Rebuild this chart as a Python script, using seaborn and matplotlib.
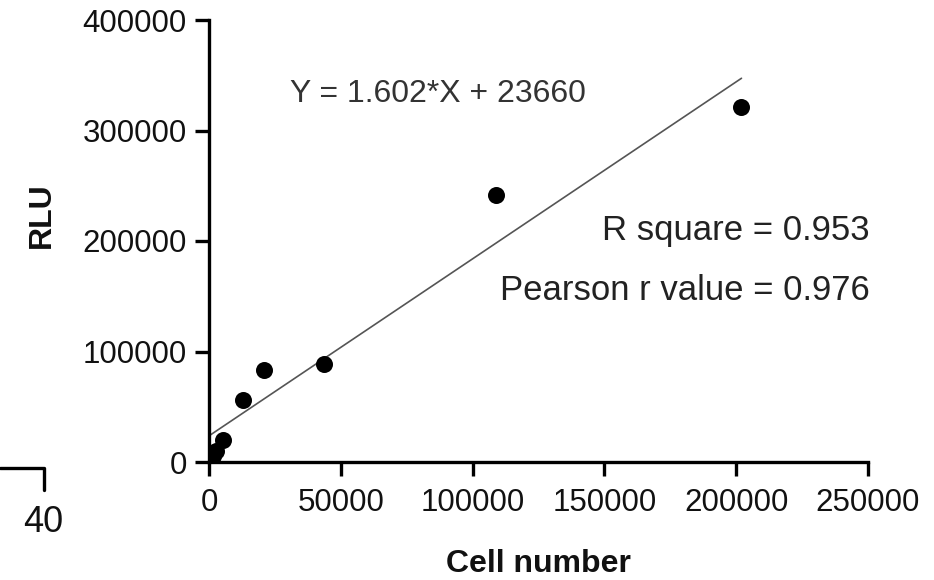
import matplotlib
matplotlib.use("Agg")
import matplotlib.pyplot as plt
import seaborn as sns
import numpy as np
import pandas as pd
from matplotlib.lines import Line2D

# ---- data ----
cell_number = [700, 1400, 2700, 5400, 12900, 20800, 43500, 109000, 202000]
rlu = [2000, 5000, 10000, 20000, 56500, 83500, 89000, 242000, 321000]
fit_slope = 1.602
fit_intercept = 23660
x_ticks = [0, 50000, 100000, 150000, 200000, 250000]
y_ticks = [0, 100000, 200000, 300000, 400000]

df = pd.DataFrame({"Cell number": cell_number, "RLU": rlu})
fit_x = np.array([0, max(cell_number)])
fit_df = pd.DataFrame({"x": fit_x, "y": fit_slope * fit_x + fit_intercept})

sns.set_theme(style="ticks")
plt.rcParams["font.family"] = ["Liberation Sans", "DejaVu Sans"]

W, H = 934, 580
fig = plt.figure(figsize=(W / 100, H / 100), dpi=100)
ax = fig.add_axes([209 / W, 1 - 462 / H, (868 - 209) / W, (462 - 20) / H])

sns.lineplot(data=fit_df, x="x", y="y", ax=ax, color="#555555", linewidth=1.2)
sns.scatterplot(data=df, x="Cell number", y="RLU", ax=ax, color="black",
                s=150, edgecolor="black", linewidth=0, zorder=3)

ax.set_xlim(0, 250000)
ax.set_ylim(0, 400000)
ax.set_xticks(x_ticks)
ax.set_yticks(y_ticks)
ax.set_xticklabels([str(t) for t in x_ticks])
ax.set_yticklabels([str(t) for t in y_ticks])
ax.tick_params(axis="both", direction="out", length=10, width=2.4,
               labelsize=22.5, color="black", labelcolor="#111111")
ax.tick_params(axis="x", pad=9)
ax.tick_params(axis="y", pad=6)
for side in ["top", "right"]:
    ax.spines[side].set_visible(False)
for side in ["left", "bottom"]:
    ax.spines[side].set_linewidth(2.4)
    ax.spines[side].set_color("black")

ax.set_xlabel("Cell number", fontsize=23, fontweight="bold", color="#111111")
ax.set_ylabel("RLU", fontsize=23, fontweight="bold", color="#111111")
ax.xaxis.label.set_va("baseline")
ax.xaxis.set_label_coords(0.5, (462 - 572) / 442)
ax.yaxis.label.set_va("center")
ax.yaxis.set_label_coords((42 - 209) / 659, (462 - 215) / 442)

fig.text(290 / W, 1 - 102 / H, "Y = 1.602*X + 23660",
         fontsize=23, color="#333333", ha="left", va="baseline")
fig.text(870 / W, 1 - 240 / H, "R square = 0.953",
         fontsize=25, color="#222222", ha="right", va="baseline")
fig.text(870 / W, 1 - 300 / H, "Pearson r value = 0.976",
         fontsize=25, color="#222222", ha="right", va="baseline")

# cropped fragment of a neighbouring panel at bottom-left
fig.add_artist(Line2D([0, 44 / W, 44 / W], [1 - 468 / H, 1 - 468 / H, 1 - 490 / H],
                      transform=fig.transFigure, color="black", linewidth=2.4))
fig.text(43 / W, 1 - 532 / H, "40", fontsize=26, ha="center", va="baseline",
         color="#111111")

fig.savefig("out.png", dpi=100)
